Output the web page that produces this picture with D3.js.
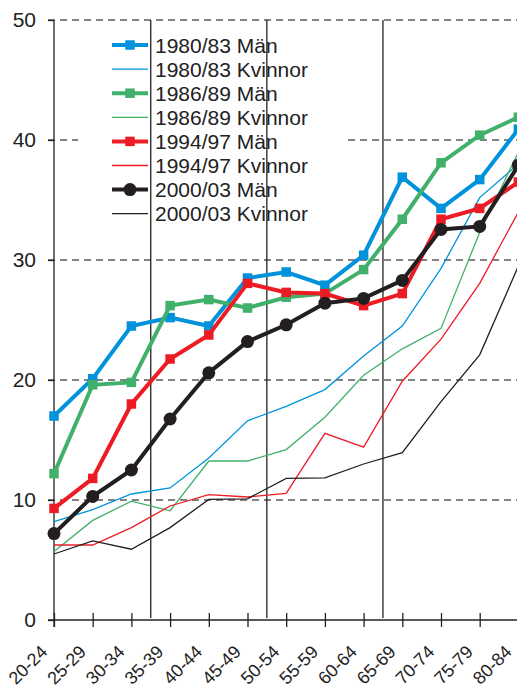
<!DOCTYPE html>
<html>
<head>
<meta charset="utf-8">
<script src="https://cdn.jsdelivr.net/npm/d3@7"></script>
<style>
  html, body { margin: 0; padding: 0; background: #fff; overflow: hidden; }
  svg { display: block; font-family: "Liberation Sans", Arial, sans-serif; }
</style>
</head>
<body>
<svg id="chart" width="517" height="686"></svg>
<script>
const categories = ["20-24","25-29","30-34","35-39","40-44","45-49","50-54","55-59","60-64","65-69","70-74","75-79","80-84"];
const yTicks = [0, 10, 20, 30, 40, 50];

const man8083 = [17.0, 20.1, 24.5, 25.2, 24.5, 28.5, 29.0, 27.9, 30.4, 36.9, 34.3, 36.7, 40.9];
const kv8083  = [8.2, 9.2, 10.5, 11.0, 13.5, 16.6, 17.8, 19.2, 22.0, 24.5, 29.3, 35.2, 38.0];
const man8689 = [12.2, 19.6, 19.8, 26.2, 26.7, 26.0, 26.9, 27.2, 29.2, 33.4, 38.1, 40.4, 41.9];
const kv8689  = [5.7, 8.3, 9.9, 9.1, 13.25, 13.25, 14.2, 16.9, 20.4, 22.6, 24.3, 32.3, 39.0];
const man9497 = [9.3, 11.8, 18.0, 21.75, 23.75, 28.05, 27.3, 27.2, 26.2, 27.2, 33.4, 34.3, 36.5];
const kv9497  = [6.25, 6.25, 7.7, 9.5, 10.45, 10.25, 10.55, 15.55, 14.4, 19.9, 23.4, 28.05, 34.0];
const man0003 = [7.2, 10.3, 12.5, 16.75, 20.6, 23.2, 24.6, 26.4, 26.8, 28.3, 32.55, 32.8, 37.9];
const kv0003  = [5.5, 6.6, 5.9, 7.7, 10.05, 10.1, 11.8, 11.85, 13.0, 13.95, 18.2, 22.1, 29.5];

const seriesNames = ["1980/83 Män","1980/83 Kvinnor","1986/89 Män","1986/89 Kvinnor","1994/97 Män","1994/97 Kvinnor","2000/03 Män","2000/03 Kvinnor"];
const dividerAfter = ["30-34","45-49","60-64"];

const BLUE = "#0092DB", GREEN = "#41B06B", RED = "#ED1C24", BLACK = "#231F20";

const series = [
  {name: seriesNames[0], values: man8083, color: BLUE,  thick: true,  marker: "square"},
  {name: seriesNames[1], values: kv8083,  color: BLUE,  thick: false},
  {name: seriesNames[2], values: man8689, color: GREEN, thick: true,  marker: "square"},
  {name: seriesNames[3], values: kv8689,  color: GREEN, thick: false},
  {name: seriesNames[4], values: man9497, color: RED,   thick: true,  marker: "square"},
  {name: seriesNames[5], values: kv9497,  color: RED,   thick: false},
  {name: seriesNames[6], values: man0003, color: BLACK, thick: true,  marker: "circle"},
  {name: seriesNames[7], values: kv0003,  color: BLACK, thick: false}
];

const svg = d3.select("#chart");
const x = d3.scalePoint().domain(categories).range([54, 518.4]);
const y = d3.scaleLinear().domain([0, 50]).range([620, 20]);
const step = x.step();

// gridlines
svg.append("g").selectAll("line").data(yTicks.filter(d => d > 0)).join("line")
  .attr("x1", 48).attr("x2", 517)
  .attr("y1", d => y(d)).attr("y2", d => y(d))
  .attr("stroke", "#5a5a5a").attr("stroke-width", 1.3)
  .attr("stroke-dasharray", "7,5");

// legend background (covers gridline)
const legX = 78, legY = 30;
svg.append("rect").attr("x", legX).attr("y", legY).attr("width", 268).attr("height", 196).attr("fill", "#fff");

// divider vertical lines
svg.append("g").selectAll("line").data(dividerAfter).join("line")
  .attr("x1", d => x(d) + step / 2).attr("x2", d => x(d) + step / 2)
  .attr("y1", y(50)).attr("y2", 618)
  .attr("stroke", "#222").attr("stroke-width", 1.3);

// y axis
const yAxis = d3.axisLeft(y).tickValues(yTicks).tickSize(6).tickPadding(12).tickFormat(d3.format("d"));
const yg = svg.append("g").attr("transform", "translate(54,0)").call(yAxis);
yg.select(".domain").attr("d", "M0,20V627").attr("stroke", "#222").attr("stroke-width", 1.3);
yg.selectAll(".tick line").attr("stroke", "#222").attr("stroke-width", 1.3);
yg.selectAll(".tick text").attr("font-size", 21).attr("fill", "#222")
  .attr("font-family", "Liberation Sans, Arial, sans-serif");

// x axis
const xAxis = d3.axisBottom(x).tickSize(14).tickSizeOuter(0);
const xg = svg.append("g").attr("transform", "translate(0,613)").call(xAxis);
xg.select(".domain").remove();
xg.append("line").attr("x1", 48).attr("x2", 517).attr("y1", 7).attr("y2", 7)
  .attr("stroke", "#222").attr("stroke-width", 1.3);
xg.selectAll(".tick line").attr("stroke", "#222").attr("stroke-width", 1.3);
xg.selectAll(".tick text")
  .attr("font-size", 18).attr("fill", "#222")
  .attr("font-family", "Liberation Sans, Arial, sans-serif")
  .attr("text-anchor", "end")
  .attr("y", 0).attr("dy", 0)
  .attr("transform", "translate(-6,40) rotate(-45)");

// data lines
const line = d3.line().x((d, i) => x(categories[i])).y(d => y(d));
const plot = svg.append("g");
const ordered = series.filter(s => !s.thick).concat(series.filter(s => s.thick));
ordered.forEach(s => {
  plot.append("path").datum(s.values)
    .attr("d", line).attr("fill", "none")
    .attr("stroke", s.color).attr("stroke-width", s.thick ? 4 : 1.3)
    .attr("stroke-linejoin", "miter");
  if (s.marker === "square") {
    plot.append("g").selectAll("rect").data(s.values).join("rect")
      .attr("x", (d, i) => x(categories[i]) - 4.75).attr("y", d => y(d) - 4.75)
      .attr("width", 9.5).attr("height", 9.5).attr("fill", s.color);
  } else if (s.marker === "circle") {
    plot.append("g").selectAll("circle").data(s.values).join("circle")
      .attr("cx", (d, i) => x(categories[i])).attr("cy", d => y(d))
      .attr("r", 6.5).attr("fill", s.color);
  }
});

// legend
const leg = svg.append("g");
series.forEach((s, i) => {
  const cy = 45 + i * 24.1;
  const g = leg.append("g");
  g.append("line").attr("x1", 112).attr("x2", 148).attr("y1", cy).attr("y2", cy)
    .attr("stroke", s.color).attr("stroke-width", s.thick ? 4 : 1.3);
  if (s.marker === "square") {
    g.append("rect").attr("x", 130 - 4.75).attr("y", cy - 4.75).attr("width", 9.5).attr("height", 9.5).attr("fill", s.color);
  } else if (s.marker === "circle") {
    g.append("circle").attr("cx", 130).attr("cy", cy).attr("r", 6.5).attr("fill", s.color);
  }
  g.append("text").attr("x", 155).attr("y", cy).attr("dy", "0.36em")
    .attr("font-size", 21).attr("fill", "#222").text(s.name);
});
</script>
</body>
</html>
